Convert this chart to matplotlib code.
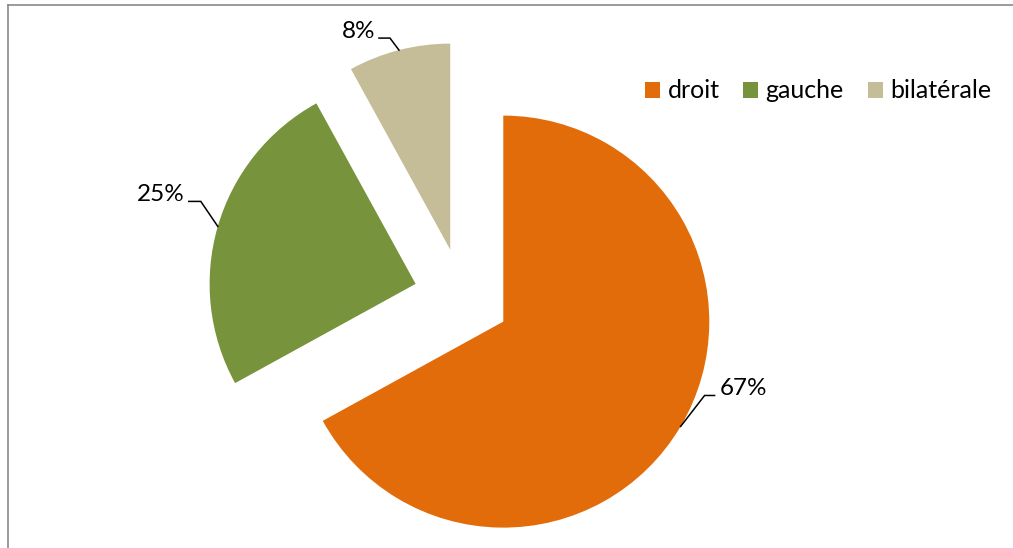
import numpy as np
import matplotlib.pyplot as plt
from matplotlib.lines import Line2D

# side of the lesion
labels = ['droit', 'gauche', 'bilatérale']
values = [67, 25, 8]
colors = ['#E36C0A', '#77933C', '#C4BD97']
explode = [0.23, 0.237, 0.24]

W, H = 1013, 548
plt.rcParams['font.family'] = ['Lato', 'DejaVu Sans']

fig = plt.figure(figsize=(W / 100, H / 100), dpi=100)
ax = fig.add_axes([0, 0, 1, 1])

R = 206
cx, cy = 462.5, H - 297.5
# pie() takes explode in data units, so scale the fractions by the radius
wedges, _ = ax.pie(values, colors=colors, explode=[e * R for e in explode],
                   startangle=90, counterclock=False, radius=R,
                   center=(cx, cy), wedgeprops=dict(linewidth=0), frame=True)
ax.set_xlim(0, W)
ax.set_ylim(0, H)
ax.set_aspect('equal')
ax.axis('off')

# leader lines: (elbow dx, elbow dy, end dx, alignment)
leaders = [(24, 31, 10, 'left'), (-17, 25, -12, 'right'), (-9, 12, -11, 'right')]
for w, v, (ex, ey, hx, ha) in zip(wedges, values, leaders):
    mid = np.deg2rad((w.theta1 + w.theta2) / 2)
    x0 = w.center[0] + w.r * np.cos(mid)
    y0 = w.center[1] + w.r * np.sin(mid)
    x1, y1 = x0 + ex, y0 + ey
    x2 = x1 + hx
    ax.plot([x0, x1, x2], [y0, y1, y1], color='black', lw=1.1,
            solid_joinstyle='miter')
    tx = x2 + (5 if ha == 'left' else -4)
    ax.text(tx, y1 + 7, f'{v}%', ha=ha, va='center', fontsize=17.5)

leg = fig.legend(wedges, labels, loc='center left', ncol=3, frameon=False,
                 bbox_to_anchor=(645 / W, 1 - 91 / H), fontsize=18,
                 handlelength=0.6, handleheight=0.6, handletextpad=0.3,
                 columnspacing=0.95, borderpad=0, borderaxespad=0)

# chart frame (top and left edges)
fig.add_artist(Line2D([8 / W, 8 / W], [0, 1 - 5 / H], color='#898989', lw=1.2))
fig.add_artist(Line2D([8 / W, 1], [1 - 5 / H, 1 - 5 / H], color='#898989', lw=1.2))

fig.savefig('out.png', dpi=100)
